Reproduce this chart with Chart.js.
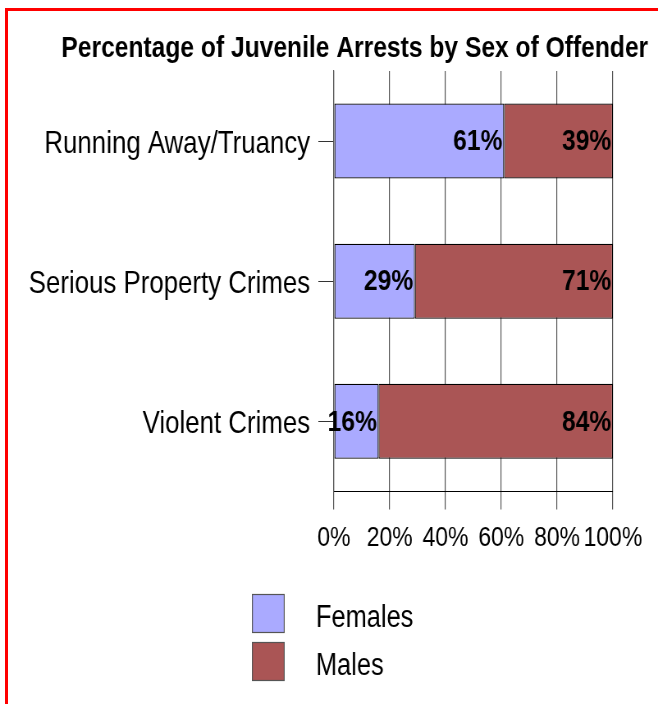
<!DOCTYPE html>
<html>
<head>
<meta charset="utf-8">
<title>Juvenile Arrests by Sex</title>
<script src="https://cdn.jsdelivr.net/npm/chart.js@4/dist/chart.umd.min.js"></script>
<style>
    html, body { margin: 0; padding: 0; background: #fff; overflow: hidden; }
    /* red frame runs off the right and bottom edges of the page */
    #frame { position: absolute; left: 5px; top: 8px; width: 720px; height: 760px; border: 3px solid #ff0000; }
    #chart { position: absolute; left: 0; top: 0; }
</style>
</head>
<body>
<div id="frame"></div>
<!-- canvas is drawn wide and squeezed by its inline style, giving the narrow Arial look -->
<canvas id="chart" width="802" height="704" style="width:658px;height:704px"></canvas>

<script>
// --- dados ---
const categories = ['Running Away/Truancy', 'Serious Property Crimes', 'Violent Crimes'];
const femalesPct = [61, 29, 16];
const malesPct   = [39, 71, 84];
const xTickValues = [0, 20, 40, 60, 80, 100];

const FONT = "'Liberation Sans', Arial, sans-serif";

const COR = {
    female: '#aaaaff',
    male:   '#aa5555',
    grid:   '#555555',
    text:   '#000000',
};

// rótulos de porcentagem dentro do fim de cada barra
const barValueLabels = {
    id: 'barValueLabels',
    afterDatasetsDraw(chart) {
        const ctx = chart.ctx;
        ctx.save();
        ctx.font = `bold 30px ${FONT}`;
        ctx.fillStyle = COR.text;
        ctx.textAlign = 'right';
        ctx.textBaseline = 'middle';
        chart.data.datasets.forEach((ds, di) => {
            chart.getDatasetMeta(di).data.forEach((bar, i) => {
                ctx.fillText(ds.data[i] + '%', bar.x - 2, bar.y + 1);
            });
        });
        ctx.restore();
    }
};

// legenda empilhada, centralizada abaixo do eixo
const stackedLegend = {
    id: 'stackedLegend',
    afterDraw(chart, args, opts) {
        const ctx = chart.ctx;
        const items = chart.data.datasets;
        ctx.save();
        ctx.font = `${opts.fontSize}px ${FONT}`;
        const textW = Math.max(...items.map(d => ctx.measureText(d.label).width));
        const blockW = opts.boxWidth + opts.gap + textW;
        const left = Math.round((chart.width - blockW) / 2) + opts.dx;
        items.forEach((ds, i) => {
            const top = opts.top + i * opts.rowStep;
            ctx.fillStyle = ds.backgroundColor;
            ctx.fillRect(left, top, opts.boxWidth, opts.boxHeight);
            ctx.strokeStyle = '#555';
            ctx.lineWidth = 1.2;
            ctx.strokeRect(left + 0.6, top + 0.5, opts.boxWidth - 1.2, opts.boxHeight - 1);
            ctx.fillStyle = COR.text;
            ctx.textAlign = 'left';
            ctx.textBaseline = 'middle';
            ctx.fillText(ds.label, left + opts.boxWidth + opts.gap, top + opts.boxHeight / 2 + 5);
        });
        ctx.restore();
    }
};

new Chart(document.getElementById('chart'), {
    type: 'bar',
    data: {
        labels: categories,
        datasets: [
            {
                label: 'Females',
                data: femalesPct,
                backgroundColor: COR.female,
                borderColor: '#000',
                borderWidth: 1.2,
                borderSkipped: false,
            },
            {
                label: 'Males',
                data: malesPct,
                backgroundColor: COR.male,
                borderColor: '#000',
                borderWidth: 1.2,
                borderSkipped: false,
            }
        ]
    },
    options: {
        indexAxis: 'y',
        responsive: false,
        devicePixelRatio: 1,
        animation: false,
        categoryPercentage: 0.535,
        barPercentage: 1,
        layout: { padding: { left: 20, right: 12, top: 0, bottom: 137 } },
        plugins: {
            legend: { display: false },
            tooltip: { enabled: false },
            title: {
                display: true,
                align: 'end',
                text: 'Percentage of Juvenile Arrests by Sex of Offender',
                color: COR.text,
                font: { family: FONT, size: 30, weight: 'bold' },
                padding: { top: 31, bottom: 4 },
            },
            stackedLegend: { top: 594, rowStep: 48, boxWidth: 40, boxHeight: 39, gap: 38, fontSize: 31, dx: 4 },
        },
        scales: {
            x: {
                stacked: true,
                min: 0,
                max: 100,
                afterBuildTicks: scale => { scale.ticks = xTickValues.map(v => ({ value: v })); },
                // espaço à direita para o rótulo "100%"
                afterFit: scale => { scale.paddingRight = 55; },
                ticks: {
                    color: COR.text,
                    font: { family: FONT, size: 28 },
                    padding: 12,
                    maxRotation: 0,
                    autoSkip: false,
                    callback: v => v + '%',
                },
                grid: { color: COR.grid, lineWidth: 1.2, tickLength: 18, tickColor: COR.grid },
                border: { color: '#000' },
            },
            y: {
                stacked: true,
                afterFit: scale => { scale.width = 387; },
                ticks: {
                    color: COR.text,
                    font: { family: FONT, size: 31.5 },
                    padding: 10,
                    labelOffset: 3,
                },
                grid: { drawOnChartArea: false, offset: false, tickLength: 19, tickColor: '#333' },
                border: { color: COR.grid, width: 1.2 },
            }
        }
    },
    plugins: [barValueLabels, stackedLegend]
});
</script>
</body>
</html>
